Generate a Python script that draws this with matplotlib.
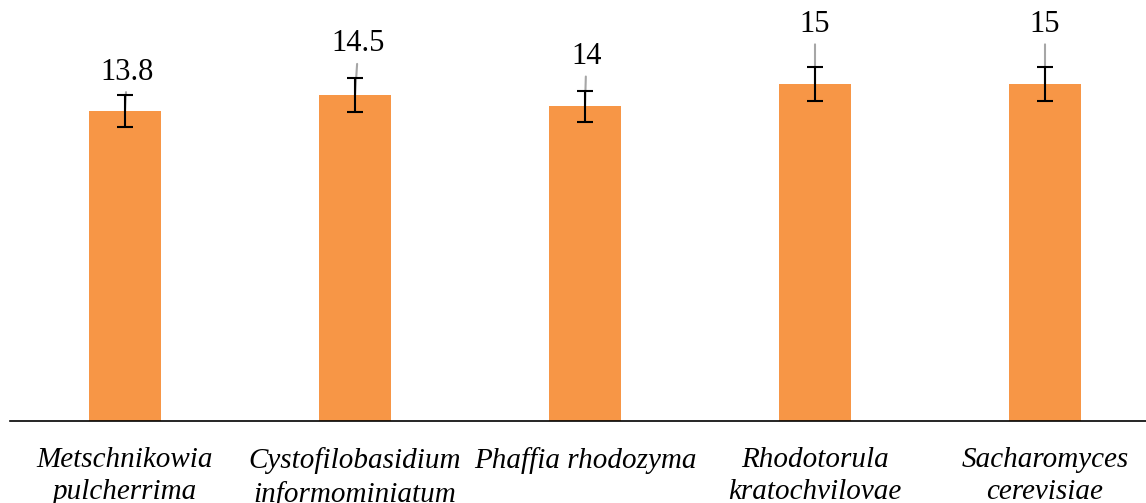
import numpy as np
import matplotlib.pyplot as plt

# Data
species = ['Metschnikowia\npulcherrima', 'Cystofilobasidium\ninformominiatum',
           'Phaffia rhodozyma', 'Rhodotorula\nkratochvilovae', 'Sacharomyces\ncerevisiae']
values = [13.8, 14.5, 14, 15, 15]
errors = [0.7, 0.75, 0.7, 0.75, 0.75]
value_labels = ['13.8', '14.5', '14', '15', '15']

# Label placement (offset in points from bar top), Excel-like moved labels
label_dx = [1.5, 2.5, 1, 0, 0]
label_dy = [28, 37, 36, 43, 43]

plt.rcParams['font.family'] = ['Liberation Serif', 'DejaVu Serif']

fig = plt.figure(figsize=(11.46, 5.03), dpi=100)
ax = fig.add_axes([10 / 1146, (503 - 421) / 503, 1150 / 1146, 421 / 503])

x = np.arange(len(species))
ax.bar(x, values, width=0.313, color='#F79646', zorder=2)
ax.errorbar(x, values, yerr=errors, fmt='none', ecolor='black', elinewidth=1.5,
            capsize=6, capthick=1.5, zorder=4)

for xi, v, lab, dx, dy in zip(x, values, value_labels, label_dx, label_dy):
    ax.annotate(lab, xy=(xi, v), xytext=(dx, dy), textcoords='offset points',
                ha='center', va='center', fontsize=22,
                arrowprops=dict(arrowstyle='-', color='#A6A6A6', lw=1.5,
                                shrinkA=2, shrinkB=0), zorder=3)

ax.set_xlim(-0.5, 4.5)
ax.set_ylim(0, 18.74)
ax.set_xticks(x)
ax.set_xticklabels(species, fontsize=21, style='italic', linespacing=1.3)
ax.tick_params(axis='x', length=0, pad=19)
ax.set_yticks([])
for s in ['top', 'right', 'left']:
    ax.spines[s].set_visible(False)
ax.spines['bottom'].set_linewidth(1.2)

fig.savefig('out.png', dpi=100)
